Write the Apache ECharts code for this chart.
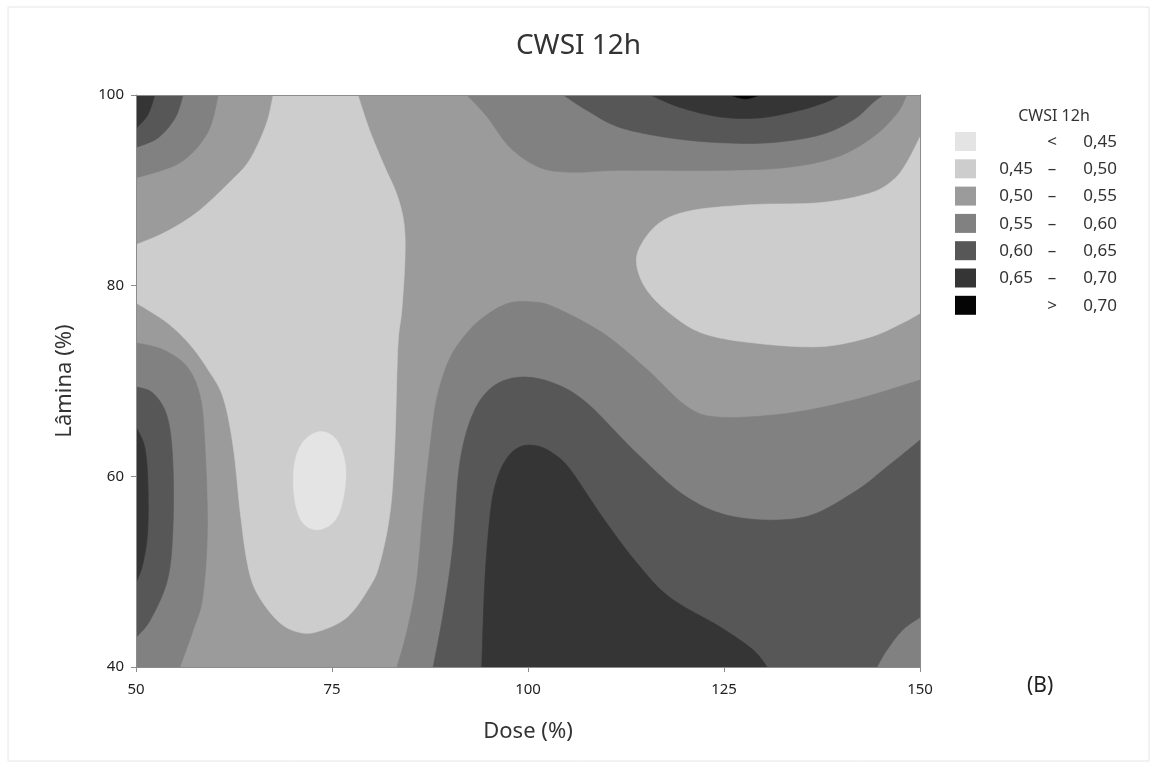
<!DOCTYPE html>
<html>
<head>
<meta charset="utf-8">
<script src="https://cdn.jsdelivr.net/npm/echarts@6/dist/echarts.min.js"></script>
<style>
  html, body { margin: 0; padding: 0; background: #fff; }
  #chart { width: 1157px; height: 767px; }
</style>
</head>
<body>
<div id="chart"></div>
<script>
// axis ranges and ticks
const DOSE_MIN = 50, DOSE_MAX = 150, LAM_MIN = 40, LAM_MAX = 100;

// contour levels (CWSI 12h)
const levelColors = ['#e4e4e4', '#cdcdcd', '#9b9b9b', '#818181', '#575757', '#353535', '#050505'];
const levelLow = ['', '0,45', '0,50', '0,55', '0,60', '0,65', ''];
const levelSym = ['<', '–', '–', '–', '–', '–', '>'];
const levelHigh = ['0,45', '0,50', '0,55', '0,60', '0,65', '0,70', '0,70'];

// region outlines as [dose, lamina]
const bgBand = [[50, 40], [150, 40], [150, 100], [50, 100]];

const lightLeft = [[67.5, 100], [78.3, 100], [79.8, 96.3], [81.6, 92.7], [83.3, 89.5], [84.2, 86.4],
  [84.3, 82.7], [83.9, 77.4], [83.4, 73.6], [83.0, 63.1], [82.4, 56.2], [81.1, 50.9], [79.8, 48.4],
  [76.9, 45.2], [73.1, 43.7], [70.5, 43.7], [68.0, 44.9], [65.4, 47.8], [64.2, 50.9], [63.3, 56.2],
  [62.4, 63.1], [61.1, 68.3], [59.1, 71.3], [56.9, 73.8], [54.3, 75.9], [51.8, 77.3], [50, 78.2],
  [50, 84.3], [53.7, 85.6], [57.8, 87.7], [62.0, 90.9], [64.5, 93.2], [66.6, 96.9]];
const lightRight = [[150, 95.6], [148.3, 92.9], [146.6, 91.1], [143.6, 89.7], [137.2, 88.7],
  [128.7, 88.5], [121.0, 87.9], [116.8, 86.6], [114.3, 84.1], [113.9, 82.0], [115.2, 79.5],
  [118.1, 77.1], [122.3, 75.0], [128.7, 74.0], [137.2, 73.6], [143.6, 74.6], [147.8, 76.1], [150, 77.1]];
const lightestSpot = [[73.5, 64.7], [75.6, 63.8], [76.7, 61.2], [76.5, 58.0], [75.4, 55.4],
  [73.2, 54.4], [71.2, 55.2], [70.2, 57.8], [70.2, 61.2], [71.3, 63.6]];

const mid55TopLeft = [[60.5, 100], [59.1, 96.0], [55.6, 92.9], [50, 91.3], [50, 100]];
const mid55Top = [[92.2, 100], [94.8, 97.7], [97.7, 94.5], [101.5, 92.4], [105.7, 91.9], [111.7, 92.1],
  [124.5, 92.1], [133.0, 92.4], [139.4, 93.5], [144.0, 95.6], [147.1, 98.1], [148.3, 100]];
const mid55Left = [[50, 74.0], [53.4, 73.3], [56.5, 71.5], [58.2, 68.3], [58.8, 63.1], [59.1, 54.4],
  [58.5, 47.3], [57.3, 43.9], [55.6, 40], [50, 40]];
const mid55Center = [[150, 70.1], [141.5, 68.0], [133.0, 66.6], [124.5, 66.2], [120.3, 67.3],
  [115.2, 71.2], [109.6, 75.0], [103.2, 77.8], [100.3, 78.3], [97.7, 78.2], [95.2, 77.2], [92.6, 75.4],
  [90.1, 72.5], [88.4, 68.3], [87.5, 63.1], [86.6, 56.2], [85.8, 49.1], [84.6, 43.9], [83.3, 40], [150, 40]];

const dark60TopLeft = [[56.0, 100], [55.0, 97.6], [52.8, 95.5], [50, 94.5], [50, 100]];
const dark60Top = [[104.5, 100], [107.5, 98.4], [111.7, 96.6], [118.1, 95.5], [124.5, 95.0],
  [130.9, 95.0], [137.2, 95.8], [141.5, 97.4], [144.0, 99.2], [145.3, 100]];
const dark60Left = [[50, 69.4], [52.2, 68.7], [54.0, 66.2], [54.7, 61.4], [54.7, 54.4], [54.0, 49.1],
  [51.8, 44.9], [50, 43.1]];
const dark60Center = [[150, 63.8], [145.8, 61.0], [141.5, 58.3], [135.1, 55.7], [126.7, 55.7],
  [120.3, 57.8], [113.9, 62.4], [107.5, 67.7], [103.2, 69.8], [99.0, 70.4], [95.5, 69.4], [93.0, 66.6],
  [91.3, 61.4], [90.4, 52.6], [89.2, 45.7], [87.9, 40], [144.5, 40], [145.8, 41.8], [147.8, 43.9], [150, 45.2]];

const dark65TopLeft = [[52.4, 100], [51.5, 97.9], [50, 96.5], [50, 100]];
const dark65Top = [[115.6, 100], [119.4, 98.7], [124.5, 97.7], [129.6, 97.6], [134.7, 98.4],
  [138.1, 99.3], [139.8, 100]];
const dark65Left = [[50, 65.2], [51.1, 63.1], [51.5, 59.6], [51.5, 54.4], [50.9, 50.9], [50, 48.8]];
const dark65Center = [[94.1, 40], [94.5, 49.1], [95.2, 56.2], [96.0, 59.6], [97.3, 61.9], [99.0, 63.1],
  [101.1, 63.2], [103.2, 62.4], [105.4, 60.7], [109.6, 55.6], [113.9, 50.9], [118.1, 47.3], [124.5, 44.2],
  [128.7, 41.8], [130.5, 40]];

const dark70Top = [[125.8, 100], [127.7, 99.6], [129.6, 100]];

// paint order: [level index, outline]
const layers = [
  [2, bgBand], [1, lightLeft], [1, lightRight], [0, lightestSpot],
  [3, mid55TopLeft], [3, mid55Top], [3, mid55Left], [3, mid55Center],
  [4, dark60TopLeft], [4, dark60Top], [4, dark60Left], [4, dark60Center],
  [5, dark65TopLeft], [5, dark65Top], [5, dark65Left], [5, dark65Center],
  [6, dark70Top]
];

const FONT = 'Noto Sans';

// two points lying on the same side of the plot box are joined straight
function onSameEdge(a, b) {
  return (a[0] === DOSE_MIN && b[0] === DOSE_MIN) || (a[0] === DOSE_MAX && b[0] === DOSE_MAX) ||
    (a[1] === LAM_MIN && b[1] === LAM_MIN) || (a[1] === LAM_MAX && b[1] === LAM_MAX);
}

// smooth (catmull-rom) outline in pixels
function outline(pts, api) {
  const px = pts.map((p) => api.coord(p));
  const n = pts.length;
  const straight = (i) => onSameEdge(pts[i], pts[(i + 1) % n]);
  const out = [];
  for (let i = 0; i < n; i++) {
    const j = (i + 1) % n;
    const a = px[i], b = px[j];
    if (straight(i)) { out.push(a); continue; }
    const p0 = straight((i - 1 + n) % n) ? a : px[(i - 1 + n) % n];
    const p3 = straight(j) ? b : px[(j + 1) % n];
    const steps = 16;
    for (let s = 0; s < steps; s++) {
      const t = s / steps, t2 = t * t, t3 = t2 * t;
      const f = (k) => 0.5 * (2 * a[k] + (-p0[k] + b[k]) * t +
        (2 * p0[k] - 5 * a[k] + 4 * b[k] - p3[k]) * t2 +
        (-p0[k] + 3 * a[k] - 3 * b[k] + p3[k]) * t3);
      out.push([f(0), f(1)]);
    }
  }
  return out;
}

// legend built from the level arrays
const legendFont = '17px "' + FONT + '"';
const legendGraphics = [{
  type: 'text', x: 1054, y: 116,
  style: { text: 'CWSI 12h', font: '16px "' + FONT + '"', fill: '#333', align: 'center', verticalAlign: 'middle' }
}];
levelColors.forEach((c, i) => {
  const y = 132 + i * 27.3;
  legendGraphics.push(
    { type: 'rect', shape: { x: 955, y: y, width: 21, height: 19 }, style: { fill: c } },
    { type: 'text', x: 1033, y: y + 10, style: { text: levelLow[i], font: legendFont, fill: '#333', align: 'right', verticalAlign: 'middle' } },
    { type: 'text', x: 1052, y: y + 10, style: { text: levelSym[i], font: legendFont, fill: '#333', align: 'center', verticalAlign: 'middle' } },
    { type: 'text', x: 1117, y: y + 10, style: { text: levelHigh[i], font: legendFont, fill: '#333', align: 'right', verticalAlign: 'middle' } }
  );
});

const chart = echarts.init(document.getElementById('chart'));

const axisColor = '#8c8c8c';
const option = {
  animation: false,
  backgroundColor: '#fff',
  textStyle: { fontFamily: FONT },
  title: {
    text: 'CWSI 12h', left: 'center', top: 27,
    textStyle: { fontFamily: FONT, fontSize: 28, fontWeight: 'normal', color: '#333' }
  },
  grid: { left: 136, right: 237, top: 95, bottom: 100, containLabel: false, outerBoundsMode: 'none' },
  xAxis: [{
    type: 'value', min: DOSE_MIN, max: DOSE_MAX, interval: 25, z: 50,
    name: 'Dose (%)', nameLocation: 'middle', nameGap: 54,
    nameTextStyle: { fontFamily: FONT, fontSize: 22, color: '#333' },
    axisLine: { show: true, lineStyle: { color: axisColor } },
    axisTick: { show: true, length: 5, lineStyle: { color: axisColor } },
    axisLabel: { fontFamily: FONT, fontSize: 15, color: '#222', margin: 15 },
    splitLine: { show: false }
  }, {
    type: 'value', min: DOSE_MIN, max: DOSE_MAX, position: 'top', z: 50,
    axisLine: { show: true, lineStyle: { color: axisColor } },
    axisTick: { show: false }, axisLabel: { show: false }, splitLine: { show: false }
  }],
  yAxis: [{
    type: 'value', min: LAM_MIN, max: LAM_MAX, interval: 20, z: 50,
    name: 'Lâmina (%)', nameLocation: 'middle', nameGap: 60,
    nameTextStyle: { fontFamily: FONT, fontSize: 22, color: '#333' },
    axisLine: { show: true, lineStyle: { color: axisColor } },
    axisTick: { show: true, length: 5, lineStyle: { color: axisColor } },
    axisLabel: { fontFamily: FONT, fontSize: 15, color: '#222', margin: 12 },
    splitLine: { show: false }
  }, {
    type: 'value', min: LAM_MIN, max: LAM_MAX, position: 'right', z: 50,
    axisLine: { show: true, lineStyle: { color: axisColor } },
    axisTick: { show: false }, axisLabel: { show: false }, splitLine: { show: false }
  }],
  graphic: [
    { type: 'rect', shape: { x: 8, y: 7, width: 1141, height: 754 }, style: { fill: 'none', stroke: '#e6e6e6' }, z: -1 },
    { type: 'text', left: 1027, top: 676, style: { text: '(B)', font: '21px "' + FONT + '"', fill: '#222' } }
  ].concat(legendGraphics),
  series: layers.map(([lvl, pts], idx) => ({
    type: 'custom',
    coordinateSystem: 'cartesian2d',
    xAxisIndex: 0,
    yAxisIndex: 0,
    clip: true,
    silent: true,
    z: 2 + idx,
    data: pts,
    renderItem: (params, api) => params.dataIndex === 0 ? {
      type: 'polygon',
      shape: { points: outline(pts, api) },
      style: { fill: levelColors[lvl], stroke: levelColors[lvl], lineWidth: 0.6 }
    } : null
  }))
};

chart.setOption(option);
</script>
</body>
</html>
